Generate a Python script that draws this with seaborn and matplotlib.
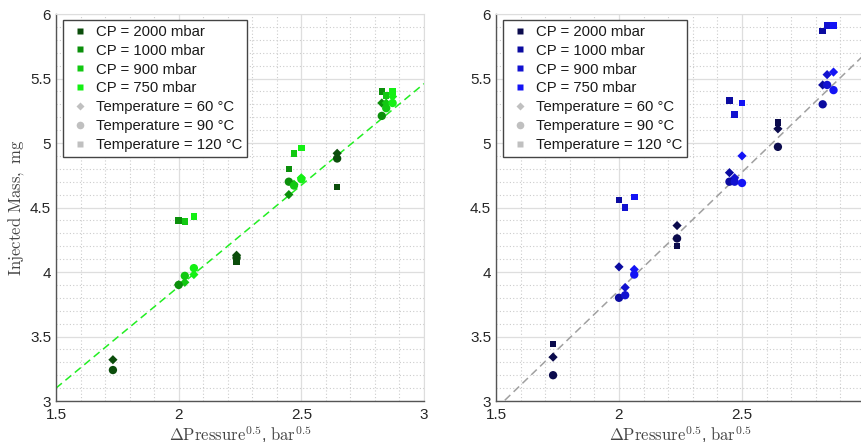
import numpy as np
import pandas as pd
import matplotlib
matplotlib.use("Agg")
import matplotlib.pyplot as plt
from matplotlib.lines import Line2D
import seaborn as sns

# ---------------- data ----------------
cp_levels = ["CP = 2000 mbar", "CP = 1000 mbar", "CP = 900 mbar", "CP = 750 mbar"]
temp_levels = [60, 90, 120]
# sqrt pressure difference for each CP (three injection pressures each)
dp_2000 = [1.732, 2.236, 2.646]
dp_1000 = [2.000, 2.449, 2.828]
dp_900 = [2.025, 2.470, 2.846]
dp_750 = [2.062, 2.500, 2.872]

# left panel (green) injected mass, rows = pressure, cols = temperature (60, 90, 120)
left_2000 = [[3.32, 3.24, np.nan], [4.13, 4.11, 4.08], [4.92, 4.88, 4.66]]
left_1000 = [[3.90, 3.90, 4.40], [4.60, 4.70, 4.80], [5.31, 5.21, 5.40]]
left_900 = [[3.92, 3.97, 4.39], [4.68, 4.67, 4.92], [5.31, 5.27, 5.37]]
left_750 = [[3.98, 4.03, 4.43], [4.73, 4.72, 4.96], [5.36, 5.31, 5.40]]

# right panel (blue)
right_2000 = [[3.34, 3.20, 3.44], [4.36, 4.26, 4.20], [5.11, 4.97, 5.16]]
right_1000 = [[4.04, 3.80, 4.56], [4.77, 4.70, 5.33], [5.45, 5.30, 5.87]]
right_900 = [[3.88, 3.82, 4.50], [4.73, 4.70, 5.22], [5.53, 5.45, 5.91]]
right_750 = [[4.02, 3.98, 4.58], [4.90, 4.69, 5.31], [5.55, 5.41, 5.91]]

# fitted trend lines
fit_x = [1.5, 3.0]
fit_left = [3.10, 5.46]
fit_right = [2.94, 5.69]

x_ticks = [1.5, 2.0, 2.5, 3.0]
y_ticks = [3.0, 3.5, 4.0, 4.5, 5.0, 5.5, 6.0]

green_palette = ["#0b4d0b", "#0b8f0b", "#12c812", "#14f014"]
blue_palette = ["#0b0b4d", "#0b0ba0", "#1212d0", "#1414f5"]


def build_frame(dps, vals):
    rows = []
    for cp, dp, v in zip(cp_levels, dps, vals):
        for i, x in enumerate(dp):
            for j, t in enumerate(temp_levels):
                y = v[i][j]
                if not np.isnan(y):
                    rows.append({"dp": x, "mass": y, "CP": cp, "T": t})
    return pd.DataFrame(rows)


dps = [dp_2000, dp_1000, dp_900, dp_750]
df_left = build_frame(dps, [left_2000, left_1000, left_900, left_750])
df_right = build_frame(dps, [right_2000, right_1000, right_900, right_750])

# ---------------- style ----------------
sns.set_style("white")
plt.rcParams["font.family"] = ["Liberation Sans", "DejaVu Sans"]
plt.rcParams["mathtext.fontset"] = "cm"

fig = plt.figure(figsize=(8.62, 4.46), dpi=100)
ax1 = fig.add_axes([56 / 862, 1 - 401 / 446, (424 - 56) / 862, (401 - 14) / 446])
ax2 = fig.add_axes([496 / 862, 1 - 401 / 446, (865 - 496) / 862, (401 - 14) / 446])

markers = {60: "D", 90: "o", 120: "s"}
sizes = {60: 22, 90: 36, 120: 22}


def style_axes(ax, show_last_x=True):
    ax.set_xlim(1.5, 3.0)
    ax.set_ylim(3.0, 6.0)
    ax.set_xticks(x_ticks)
    ax.set_yticks(y_ticks)
    xl = [f"{v:g}" for v in x_ticks]
    if not show_last_x:
        xl[-1] = ""
    ax.set_xticklabels(xl)
    ax.set_yticklabels([f"{v:g}" for v in y_ticks])
    ax.set_xticks(np.arange(1.5, 3.0001, 0.1), minor=True)
    ax.set_yticks(np.arange(3.0, 6.0001, 0.1), minor=True)
    ax.grid(which="major", color="#dedede", linewidth=0.9, linestyle="-")
    ax.grid(which="minor", color="#cccccc", linewidth=0.8, linestyle=(0, (1, 2)))
    ax.set_axisbelow(True)
    ax.tick_params(which="both", direction="in", colors="#444444", labelsize=11,
                   labelcolor="#262626")
    ax.tick_params(which="major", length=4, width=0.8)
    ax.tick_params(which="minor", length=2.5, width=0.6)
    ax.tick_params(axis="x", pad=5)
    for s in ["left", "bottom"]:
        ax.spines[s].set_color("#555555")
        ax.spines[s].set_linewidth(1.0)
    for s in ["top", "right"]:
        ax.spines[s].set_color("#dddddd")
        ax.spines[s].set_linewidth(0.8)
    ax.set_xlabel(r"$\Delta\mathrm{Pressure}^{0.5}$, $\mathrm{bar}^{0.5}$",
                  fontsize=12, color="#444444", labelpad=1)


def draw(ax, df, palette, fit_y, fit_color, show_last_x=True):
    sns.lineplot(x=fit_x, y=fit_y, ax=ax, color=fit_color, linestyle=(0, (5, 3)),
                 linewidth=1.1, zorder=2)
    for t in temp_levels:
        sub = df[df["T"] == t]
        sns.scatterplot(data=sub, x="dp", y="mass", hue="CP", hue_order=cp_levels,
                        palette=palette, marker=markers[t], s=sizes[t],
                        edgecolor="none", linewidth=0, ax=ax, legend=False, zorder=3)
    style_axes(ax, show_last_x)
    handles = [Line2D([], [], linestyle="none", marker="s", markersize=4.3,
                      markerfacecolor=c, markeredgecolor="none") for c in palette]
    gray = "#c0c0c0"
    handles += [
        Line2D([], [], linestyle="none", marker="D", markersize=4.5,
               markerfacecolor=gray, markeredgecolor="none"),
        Line2D([], [], linestyle="none", marker="o", markersize=5.5,
               markerfacecolor=gray, markeredgecolor="none"),
        Line2D([], [], linestyle="none", marker="s", markersize=4.3,
               markerfacecolor=gray, markeredgecolor="none"),
    ]
    labels = cp_levels + [f"Temperature = {t} °C" for t in temp_levels]
    leg = ax.legend(handles, labels, loc="upper left",
                    bbox_to_anchor=(7 / 368, 1 - 6 / 387), borderaxespad=0,
                    fontsize=10.7, frameon=True, fancybox=False, framealpha=1,
                    edgecolor="#444444", labelspacing=0.33, handletextpad=0.3,
                    handlelength=1.6, borderpad=0.32)
    leg.get_frame().set_linewidth(1.0)
    for txt in leg.get_texts():
        txt.set_color("#1a1a1a")


draw(ax1, df_left, green_palette, fit_left, "#22ee22")
draw(ax2, df_right, blue_palette, fit_right, "#a0a0a0", show_last_x=False)

ax1.set_ylabel(r"$\mathrm{Injected\ Mass,\ mg}$", fontsize=12, color="#444444",
               labelpad=3)
ax2.set_ylabel("")

fig.savefig("out.png", dpi=100)
